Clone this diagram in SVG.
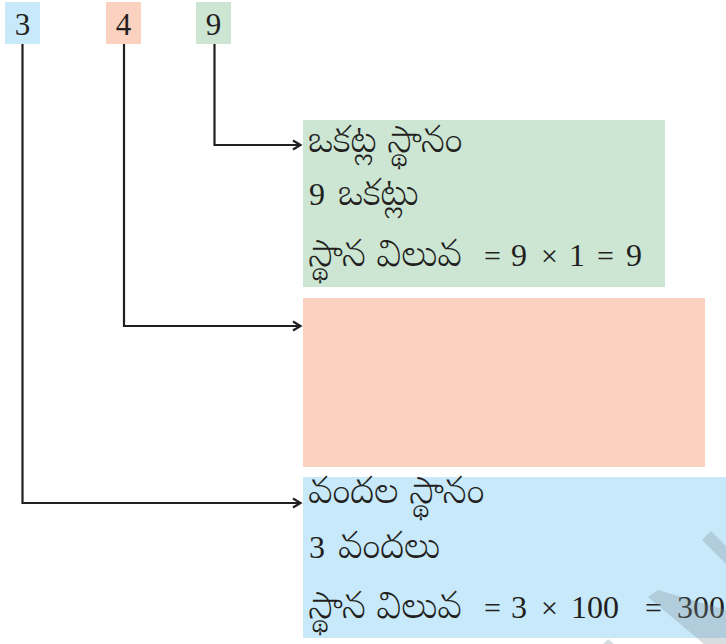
<svg xmlns="http://www.w3.org/2000/svg" width="726" height="644" viewBox="0 0 726 644">
<defs>
<marker id="arr" markerWidth="12" markerHeight="12" refX="9" refY="6" orient="auto" markerUnits="userSpaceOnUse">
<path d="M2,1.5 L9.5,6 L2,10.5" fill="none" stroke="#231f20" stroke-width="2.2"/>
</marker>
<style>
.t{font-family:"Noto Serif Telugu","Noto Sans Telugu",serif;font-size:37px;font-weight:300;fill:#231f20}
.n{font-family:"Liberation Serif",serif;font-size:32px;fill:#231f20}
.s{font-family:"Liberation Serif",serif;font-size:30px;fill:#231f20}
.d{font-family:"Liberation Serif",serif;font-size:31px;fill:#231f20;text-anchor:middle}
.c{fill:none;stroke:#231f20;stroke-width:2.2}
.wm{fill:#7f8f98;opacity:0.3}
</style>
</defs>
<rect width="726" height="644" fill="#ffffff"/>
<g id="digit-3"><rect x="5" y="2" width="35" height="42" fill="#c8e9f9"/><text class="d" x="22.5" y="35">3</text></g>
<g id="digit-4"><rect x="106" y="2" width="35" height="42" fill="#fbd2bf"/><text class="d" x="123.5" y="35">4</text></g>
<g id="digit-9"><rect x="196" y="2" width="35" height="42" fill="#cce6d3"/><text class="d" x="213.5" y="35">9</text></g>
<g id="ones-box"><rect x="303" y="120" width="362" height="167" fill="#cce6d3"/>
<text class="t" x="308" y="152">ఒకట్ల స్థానం</text>
<text x="309" y="205"><tspan class="n">9</tspan><tspan class="t" x="338">ఒకట్లు</tspan></text>
<text y="266"><tspan class="t" x="308">స్థాన విలువ</tspan><tspan class="s" x="484">=</tspan><tspan class="n" x="511">9</tspan><tspan class="s" x="541">×</tspan><tspan class="n" x="569">1</tspan><tspan class="s" x="597">=</tspan><tspan class="n" x="626">9</tspan></text></g>
<g id="tens-box"><rect x="303" y="298" width="402" height="169" fill="#fbd2bf"/></g>
<g id="hundreds-box"><rect x="303" y="477" width="423" height="161" fill="#c8e9f9"/>
<text class="t" x="308" y="503">వందల స్థానం</text>
<text x="309" y="558"><tspan class="n">3</tspan><tspan class="t" x="338">వందలు</tspan></text>
<text y="618"><tspan class="t" x="308">స్థాన విలువ</tspan><tspan class="s" x="484">=</tspan><tspan class="n" x="511">3</tspan><tspan class="s" x="541">×</tspan><tspan class="n" x="571">100</tspan><tspan class="s" x="645">=</tspan><tspan class="n" x="677">300</tspan></text></g>
<g id="connectors">
<path class="c" d="M214.5,44 V145 H300" marker-end="url(#arr)"/>
<path class="c" d="M124,44 V326 H300" marker-end="url(#arr)"/>
<path class="c" d="M22.5,44 V503 H300" marker-end="url(#arr)"/>
</g>
<g id="watermark">
<polygon class="wm" points="702,540 711,531 740,560 740,578"/>
<polygon class="wm" points="648,597 658,590 726,610 726,644 704,644"/>
<polygon class="wm" points="603,644 608,639 614,644"/>
</g>
</svg>
